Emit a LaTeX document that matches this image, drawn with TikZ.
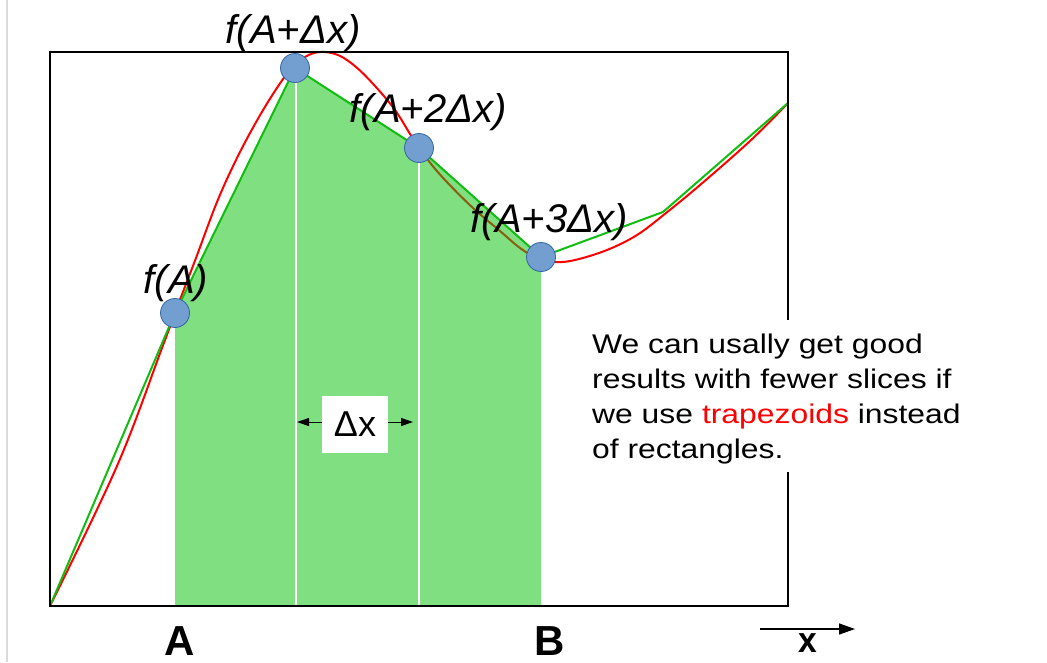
\documentclass[tikz,border=0pt]{standalone}
\usepackage{fontspec}
\setmainfont{Liberation Sans}
\newfontfamily\widefont[FakeStretch=1.18]{Liberation Sans}
\usetikzlibrary{arrows.meta}
\definecolor{fillgreen}{RGB}{128,223,128}
\definecolor{linegreen}{RGB}{15,190,15}
\definecolor{curvered}{RGB}{255,0,0}
\definecolor{brownish}{RGB}{135,95,15}
\definecolor{dotfill}{RGB}{114,159,207}
\definecolor{dotline}{RGB}{52,101,164}
\definecolor{edgegray}{RGB}{218,218,218}
\tikzset{
  redline/.style={draw=curvered, line width=2pt},
  greenline/.style={draw=linegreen, line width=2pt, line join=round},
  divider/.style={draw=white, line width=2pt},
  dot/.style={circle, fill=dotfill, draw=dotline, line width=0.8pt, minimum size=29pt, inner sep=0pt},
  flabel/.style={font=\fontsize{40}{48}\selectfont\itshape, anchor=base, inner sep=0pt},
  axlabel/.style={font=\fontsize{42}{50}\selectfont\bfseries, anchor=base, inner sep=0pt},
  noteline/.style={font=\widefont\fontsize{27}{35}\selectfont, anchor=base west, inner sep=0pt},
  dimarrow/.style={draw=black, line width=1pt, -{Triangle[length=12pt,width=8pt]}},
}
\begin{document}
\begin{tikzpicture}[x=1pt,y=-1pt]
\useasboundingbox (0,0) rectangle (1047,662);
\fill[white] (0,0) rectangle (1047,662);
\draw[edgegray, line width=2.5pt] (7,0) -- (7,662);

% key points
\coordinate (O) at (50,606);
\coordinate (P0) at (175,313);
\coordinate (P1) at (295,68);
\coordinate (P2) at (419,148);
\coordinate (P3) at (541,257);
\coordinate (Q1) at (663,212);
\coordinate (Q2) at (788,103);
\coordinate (B0) at (175,606);
\coordinate (B1) at (296,606);
\coordinate (B2) at (419,606);
\coordinate (B3) at (541,606);

% red curve
\draw[redline] plot[smooth, tension=0.6] coordinates {(50,606) (117,466) (162,348) (178,305) (196,258) (217,202) (236,160) (255,124) (273,94) (290,70) (305,57) (320,52) (338,55) (356,67) (375,86) (395,110) (412,137) (428,160) (445,180) (473,208) (500,231) (520,248) (537,258) (555,262) (575,260) (607,250) (637,235) (666,213) (700,185) (750,141) (788,103)};

% trapezoid fill
\fill[fillgreen] (B0) -- (P0) -- (P1) -- (P2) -- (P3) -- (B3) -- cycle;

% red curve seen through the fill
\begin{scope}
\clip (B0) -- (P0) -- (P1) -- (P2) -- (P3) -- (B3) -- cycle;
\draw[draw=brownish, line width=2pt] plot[smooth, tension=0.6] coordinates {(50,606) (117,466) (162,348) (178,305) (196,258) (217,202) (236,160) (255,124) (273,94) (290,70) (305,57) (320,52) (338,55) (356,67) (375,86) (395,110) (412,137) (428,160) (445,180) (473,208) (500,231) (520,248) (537,258) (555,262) (575,260) (607,250) (637,235) (666,213) (700,185) (750,141) (788,103)};
\end{scope}

% dividers
\draw[divider] (B1) -- (296,80);
\draw[divider] (B2) -- (P2);

% green polyline
\draw[greenline] (O) -- (P0) -- (P1) -- (P2) -- (P3) -- (Q1) -- (Q2);

% frame
\draw[black, line width=1.5pt] (50,52) rectangle (788,606);

% dots
\node[dot] (dA) at (P0) {};
\node[dot] (dB) at (P1) {};
\node[dot] (dC) at (P2) {};
\node[dot] (dD) at (P3) {};

% function labels
\node[flabel] (lA) at (176,293) {f(A)};
\node[flabel] (lB) at (293,43) {f(A+Δx)};
\node[flabel] (lC) at (428,122) {f(A+2Δx)};
\node[flabel] (lD) at (549,232) {f(A+3Δx)};

% delta x box
\node[fill=white, minimum width=66pt, minimum height=57pt, inner sep=0pt,
      font=\fontsize{36}{40}\selectfont] (dx) at (355,424.5) {Δx};
\coordinate (dxl) at (297,422);
\coordinate (dxr) at (413,422);
\draw[dimarrow] (dx.west |- dxl) -- (dxl);
\draw[dimarrow] (dx.east |- dxr) -- (dxr);

% note box
\node[fill=white, minimum width=395pt, minimum height=152pt, inner sep=0pt, anchor=north west] (note) at (580,320) {};
\node[noteline] (n1) at (592,353) {We can usally get good};
\node[noteline] (n2) at (592,388) {results with fewer slices if};
\node[noteline] (n3) at (592,423) {we use \textcolor{curvered}{trapezoids} instead};
\node[noteline] (n4) at (592,458) {of rectangles.};

% axis labels
\node[axlabel] (labA) at (180,655) {A};
\node[axlabel] (labB) at (550,655) {B};
\coordinate (xs) at (760,629);
\coordinate (xe) at (855,629);
\draw[black, line width=1.5pt, -{Triangle[length=16pt,width=11pt]}] (xs) -- (xe);
\node[axlabel] (labx) at (808,652) {\scalebox{0.8}[0.85]{x}};
\end{tikzpicture}
\end{document}
